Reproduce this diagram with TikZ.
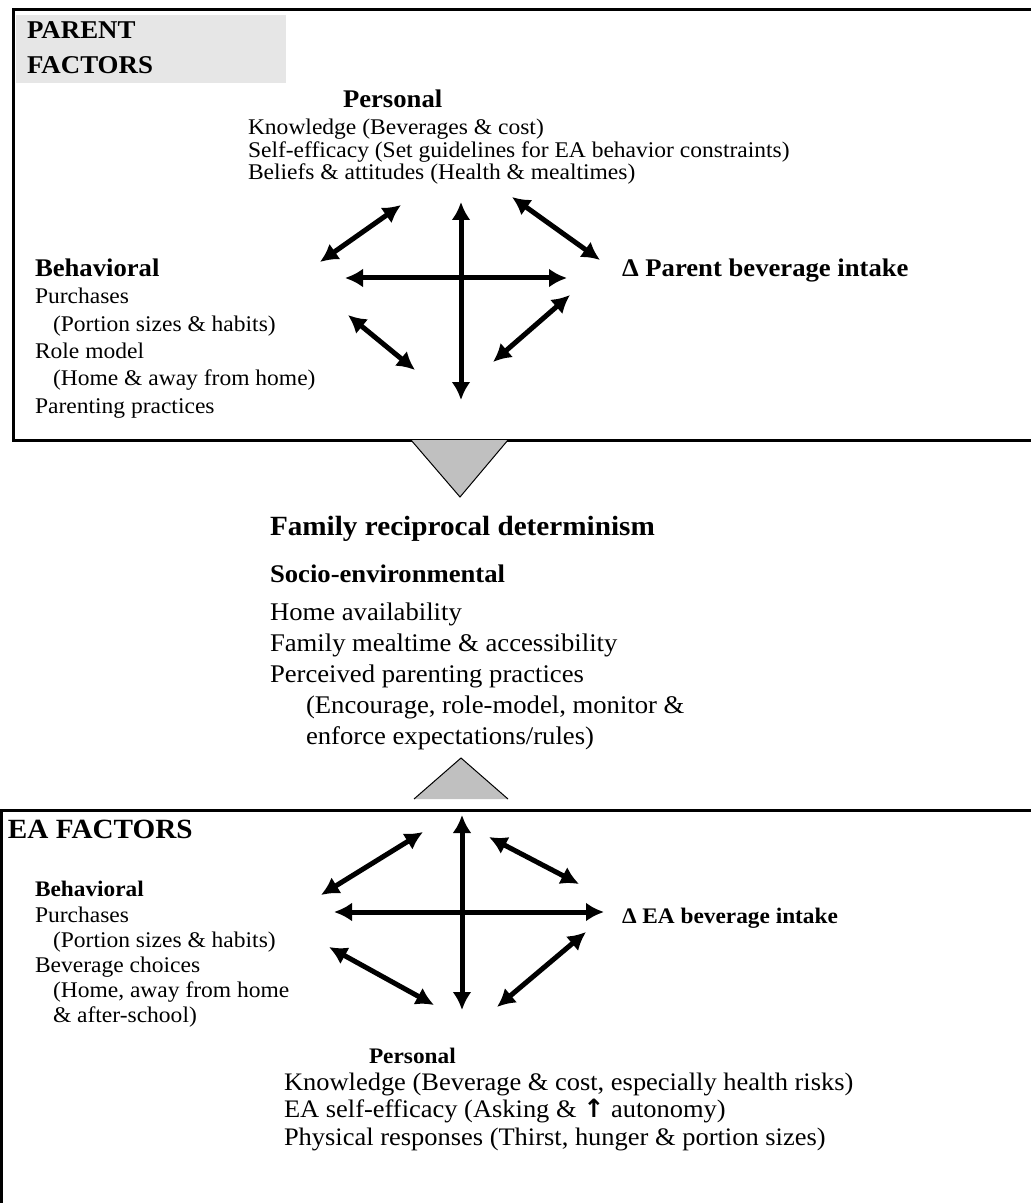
\documentclass[tikz,border=0pt]{standalone}
\usepackage{fontspec}
\setmainfont{Liberation Serif}[FakeStretch=1.05]
\newfontfamily\symfont{DejaVu Sans}
\usetikzlibrary{arrows.meta}
\definecolor{trigray}{HTML}{C0C0C0}
\definecolor{hdgray}{HTML}{E6E6E6}
\newcommand{\fs}[1]{\fontsize{#1}{#1}\selectfont}
\tikzset{
  txt/.style={anchor=base west, inner sep=0pt, outer sep=0pt},
  tr/.style={txt, font=\fs{11.2}},
  hd/.style={txt, font=\fs{12.8}\bfseries},
  bh/.style={txt, font=\fs{12.7}\bfseries},
  fam/.style={txt, font=\fs{13.9}\bfseries},
  mh/.style={txt, font=\fs{12.7}\bfseries},
  mr/.style={txt, font=\fs{12.7}},
  eah/.style={txt, font=\fs{13.9}\bfseries},
  bsh/.style={txt, font=\fs{11.1}\bfseries},
  br/.style={txt, font=\fs{11.2}},
  bpr/.style={txt, font=\fs{12.6}},
  frame/.style={line width=1.5pt},
  dbl/.style={line width=2.5pt, {Latex[length=9pt,width=9.5pt]}-{Latex[length=9pt,width=9.5pt]}},
  triedge/.style={line width=0.5pt}
}
\begin{document}
\begin{tikzpicture}[x=0.5pt, y=-0.5pt]
\useasboundingbox (0,0) rectangle (1031,1203);
\clip (0,0) rectangle (1031,1203);
% ---------- top box ----------
\draw[frame] (13.5,10) rectangle (1045,440);
\fill[hdgray] (16,15) rectangle (286,83);
\node[hd] (pf1) at (27,39) {PARENT};
\node[hd] (pf2) at (27,74) {FACTORS};
\node[bh] (ppers) at (343,108) {Personal};
\node[tr] (pk) at (248,135) {Knowledge (Beverages \& cost)};
\node[tr] (ps) at (248,157.5) {Self-efficacy (Set guidelines for EA behavior constraints)};
\node[tr] (pb) at (248,180) {Beliefs \& attitudes (Health \& mealtimes)};
\node[bh] (pbeh) at (35,277) {Behavioral};
\node[tr] (pbeh1) at (35,304) {Purchases};
\node[tr] (pbeh2) at (53,331) {(Portion sizes \& habits)};
\node[tr] (pbeh3) at (35,358) {Role model};
\node[tr] (pbeh4) at (53,386) {(Home \& away from home)};
\node[tr] (pbeh5) at (35,413) {Parenting practices};
\node[bh] (pdelta) at (622,277) {Δ Parent beverage intake};
% top arrows
\coordinate (tv1) at (461,202); \coordinate (tv2) at (461,400);
\coordinate (th1) at (345,278); \coordinate (th2) at (567,278);
\coordinate (tul1) at (320,262); \coordinate (tul2) at (401,205);
\coordinate (tur1) at (512,197); \coordinate (tur2) at (600,260);
\coordinate (tll1) at (348,315); \coordinate (tll2) at (415,370);
\coordinate (tlr1) at (493,362); \coordinate (tlr2) at (570,295);
\draw[dbl] (tv1) -- (tv2);
\draw[dbl] (th1) -- (th2);
\draw[dbl] (tul1) -- (tul2);
\draw[dbl] (tur1) -- (tur2);
\draw[dbl] (tll1) -- (tll2);
\draw[dbl] (tlr1) -- (tlr2);
% ---------- down triangle ----------
\coordinate (dA) at (411,440); \coordinate (dB) at (508,440); \coordinate (dC) at (460,497);
\fill[trigray] (dA) -- (dB) -- (dC) -- cycle;
\draw[triedge] (dA) -- (dC) -- (dB);
% ---------- middle ----------
\node[fam] (frd) at (270,535) {Family reciprocal determinism};
\node[mh] (soc) at (270,582) {Socio-environmental};
\node[mr] (m1) at (270,620) {Home availability};
\node[mr] (m2) at (270,651) {Family mealtime \& accessibility};
\node[mr] (m3) at (270,682) {Perceived parenting practices};
\node[mr] (m4) at (306,713) {(Encourage, role-model, monitor \&};
\node[mr] (m5) at (306,744) {enforce expectations/rules)};
% ---------- up triangle ----------
\coordinate (uA) at (414,799); \coordinate (uB) at (508,799); \coordinate (uC) at (461,758);
\fill[trigray] (uA) -- (uB) -- (uC) -- cycle;
\draw[triedge] (uA) -- (uC) -- (uB);
% ---------- bottom box ----------
\draw[frame] (1.5,810.5) rectangle (1045,1220);
\node[eah] (eaf) at (8,838) {EA FACTORS};
\node[bsh] (ebeh) at (35,896) {Behavioral};
\node[br] (eb1) at (35,922) {Purchases};
\node[br] (eb2) at (53,947) {(Portion sizes \& habits)};
\node[br] (eb3) at (35,972) {Beverage choices};
\node[br] (eb4) at (53,997) {(Home, away from home};
\node[br] (eb5) at (53,1022) {\& after-school)};
\node[bsh] (edelta) at (622,923) {Δ EA beverage intake};
\node[bsh] (epers) at (369,1063) {Personal};
\node[bpr] (ek) at (284,1090) {Knowledge (Beverage \& cost, especially health risks)};
\node[bpr] (ee) at (284,1117) {EA self-efficacy (Asking \& {\symfont\bfseries ↑} autonomy)};
\node[bpr] (ep) at (284,1145) {Physical responses (Thirst, hunger \& portion sizes)};
% bottom arrows
\coordinate (bv1) at (462,815); \coordinate (bv2) at (462,1010);
\coordinate (bh1) at (334,912); \coordinate (bh2) at (604,912);
\coordinate (bul1) at (321,895); \coordinate (bul2) at (423,832);
\coordinate (bur1) at (489,837); \coordinate (bur2) at (579,884);
\coordinate (bll1) at (329,947); \coordinate (bll2) at (434,1005);
\coordinate (blr1) at (497,1007); \coordinate (blr2) at (586,932);
\draw[dbl] (bv1) -- (bv2);
\draw[dbl] (bh1) -- (bh2);
\draw[dbl] (bul1) -- (bul2);
\draw[dbl] (bur1) -- (bur2);
\draw[dbl] (bll1) -- (bll2);
\draw[dbl] (blr1) -- (blr2);
\end{tikzpicture}
\end{document}
